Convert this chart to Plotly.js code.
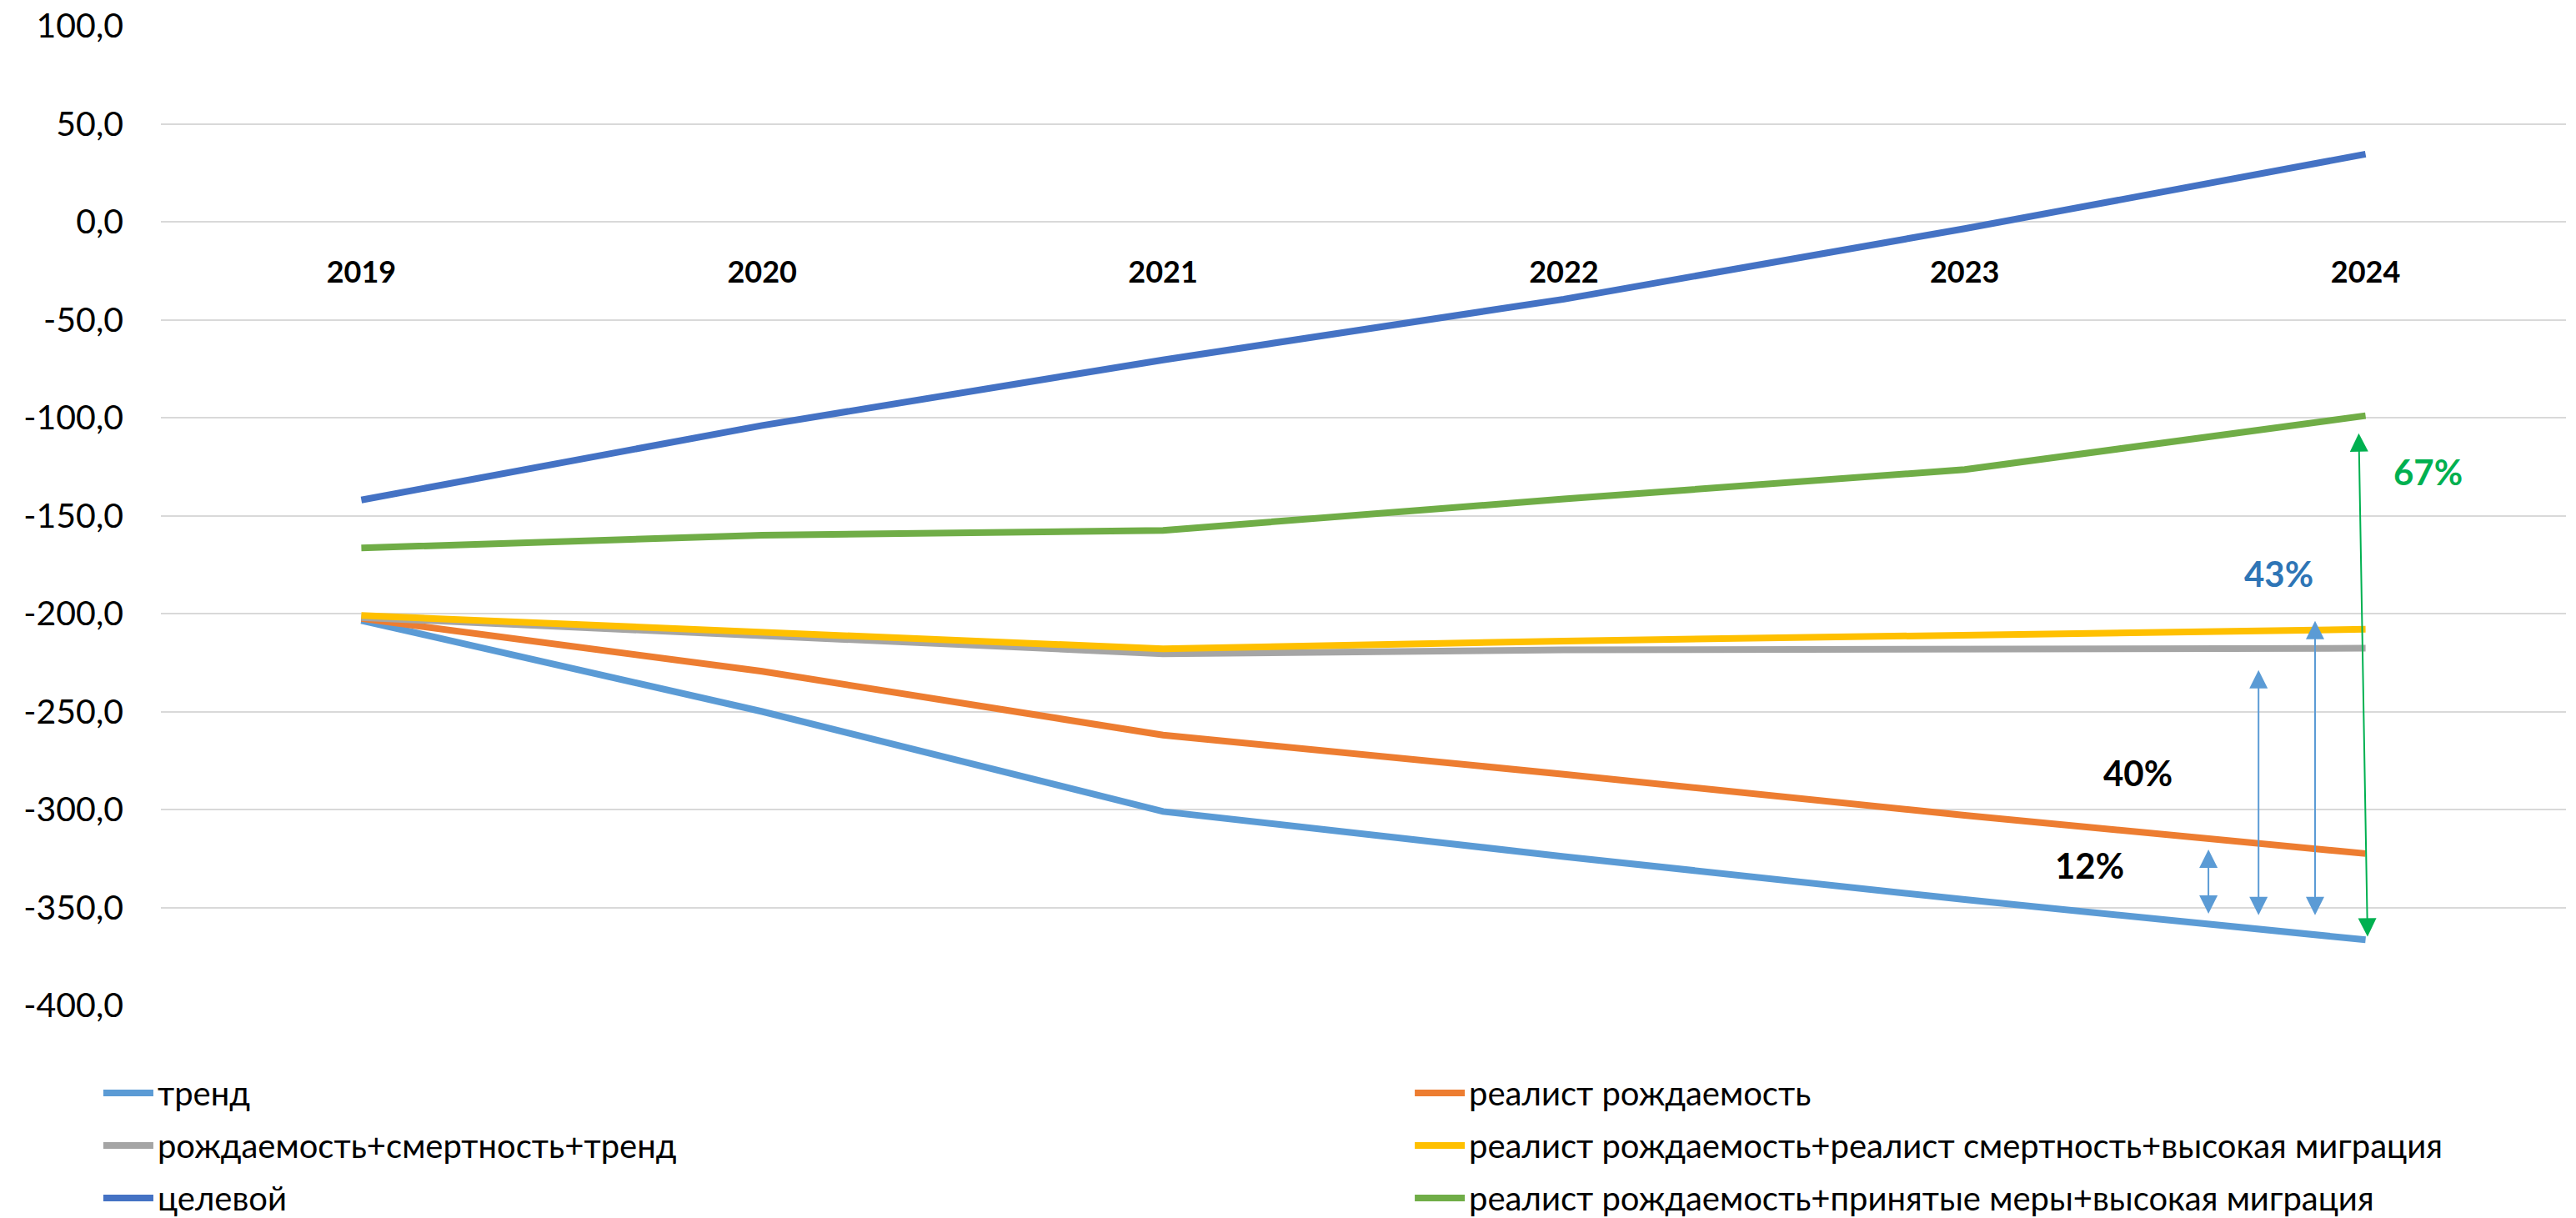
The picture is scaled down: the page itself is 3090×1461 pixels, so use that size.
<!DOCTYPE html>
<html>
<head>
<meta charset="utf-8">
<script src="https://cdn.plot.ly/plotly-3.0.1.min.js"></script>
<style>
  html, body { margin: 0; padding: 0; background: #ffffff; }
  #chart { width: 3090px; height: 1461px; }
</style>
</head>
<body>
<div id="chart"></div>
<script>
// Years on the category axis
const years = ['2019', '2020', '2021', '2022', '2023', '2024'];

// Scenario series (natural population change, thousands)
const trend          = [-203.5, -250, -301, -324, -346, -366.5];
const realBirth      = [-202.5, -229.5, -262, -282, -303, -322.5];
const birthDeathTrend = [-202, -211, -220.5, -218.5, -218, -217.7];
const realBirthDeathMig = [-201, -209.5, -218, -214, -211, -208];
const target         = [-142, -104, -70.5, -39.5, -3.5, 34.5];
const realBirthMeasuresMig = [-166.5, -160, -157.5, -141.5, -126.5, -99];

// Value-axis ticks
const yTicks = [100, 50, 0, -50, -100, -150, -200, -250, -300, -350, -400];
const yTickLabels = yTicks.map(v => v.toFixed(1).replace('.', ','));

// Legend names
const names = [
  'тренд',
  'реалист рождаемость',
  'рождаемость+смертность+тренд',
  'реалист рождаемость+реалист смертность+высокая миграция',
  'целевой',
  'реалист рождаемость+принятые меры+высокая миграция'
];
const seriesValues = [trend, realBirth, birthDeathTrend, realBirthDeathMig, target, realBirthMeasuresMig];
const colors = ['#5B9BD5', '#ED7D31', '#A5A5A5', '#FFC000', '#4472C4', '#70AD47'];

// Gap labels shown near 2024
const gapLabels = ['12%', '40%', '43%', '67%'];

const FONT = 'Lato, "Open Sans", "Noto Sans", sans-serif';

// Legend entries run row by row across two columns:
// even-indexed series in the left column, odd-indexed in the right one.
const traces = seriesValues.map((vals, i) => ({
  type: 'scatter',
  mode: 'lines',
  x: years,
  y: vals,
  name: names[i],
  legend: i % 2 === 0 ? 'legend' : 'legend2',
  legendgroup: 'g' + i,
  line: { color: colors[i], width: 8 },
  hoverinfo: 'skip'
}));

// Double-headed arrow helper (category index on x, data value on y)
function arrow(x0, y0, x1, y1, color) {
  return {
    x: x1, y: y1, ax: x0, ay: y0,
    xref: 'x', yref: 'y', axref: 'x', ayref: 'y',
    text: '', showarrow: true,
    arrowside: 'end+start',
    arrowhead: 2, startarrowhead: 2,
    arrowsize: 2.2, startarrowsize: 2.2,
    arrowwidth: 2, arrowcolor: color,
    standoff: 0, startstandoff: 0
  };
}

function label(x, y, text, color) {
  return {
    x: x, y: y, xref: 'x', yref: 'y',
    text: text, showarrow: false,
    font: { family: FONT, size: 42, color: color, weight: 'bold' },
    xanchor: 'center', yanchor: 'middle'
  };
}

const annotations = [
  arrow(4.608, -353.8, 4.608, -320.4, '#5B9BD5'),
  arrow(4.733, -354.6, 4.733, -228.8, '#5B9BD5'),
  arrow(4.874, -354.6, 4.874, -203.7, '#5B9BD5'),
  arrow(5.005, -365.5, 4.983, -108, '#00B050'),
  label(4.312, -328.5, gapLabels[0], '#000000'),
  label(4.432, -281.3, gapLabels[1], '#000000'),
  label(4.783, -179.6, gapLabels[2], '#2E75B6'),
  label(5.155, -127.7, gapLabels[3], '#00B050')
];

function legendColumn(x) {
  return {
    orientation: 'v',
    xref: 'container', yref: 'container',
    x: x, y: 0.125,
    xanchor: 'left', yanchor: 'top',
    itemwidth: 60,
    tracegroupgap: 8,
    font: { family: FONT, size: 40, color: '#000000' },
    bgcolor: 'rgba(0,0,0,0)'
  };
}

const layout = {
  width: 3090,
  height: 1461,
  paper_bgcolor: '#ffffff',
  plot_bgcolor: '#ffffff',
  margin: { l: 193, r: 12, t: 31, b: 255, pad: 0, autoexpand: false },
  font: { family: FONT, color: '#000000' },
  showlegend: true,
  legend: legendColumn(0.0385),
  legend2: legendColumn(0.5476),
  xaxis: {
    type: 'category',
    categoryorder: 'array',
    categoryarray: years,
    range: [-0.5, 5.5],
    anchor: 'free',
    position: 0.8,
    side: 'bottom',
    showgrid: false,
    zeroline: false,
    showline: false,
    ticks: '',
    ticklabelstandoff: 36,
    automargin: false,
    tickfont: { family: FONT, size: 36, color: '#000000', weight: 'bold' }
  },
  yaxis: {
    range: [-400, 100],
    tickmode: 'array',
    tickvals: yTicks,
    ticktext: yTickLabels,
    showgrid: true,
    gridcolor: '#D9D9D9',
    gridwidth: 2,
    zeroline: false,
    showline: false,
    ticks: '',
    ticklabelstandoff: 44,
    automargin: false,
    tickfont: { family: FONT, size: 41, color: '#000000' }
  },
  annotations: annotations
};

Plotly.newPlot('chart', traces, layout, { staticPlot: true, displayModeBar: false });
</script>
</body>
</html>
